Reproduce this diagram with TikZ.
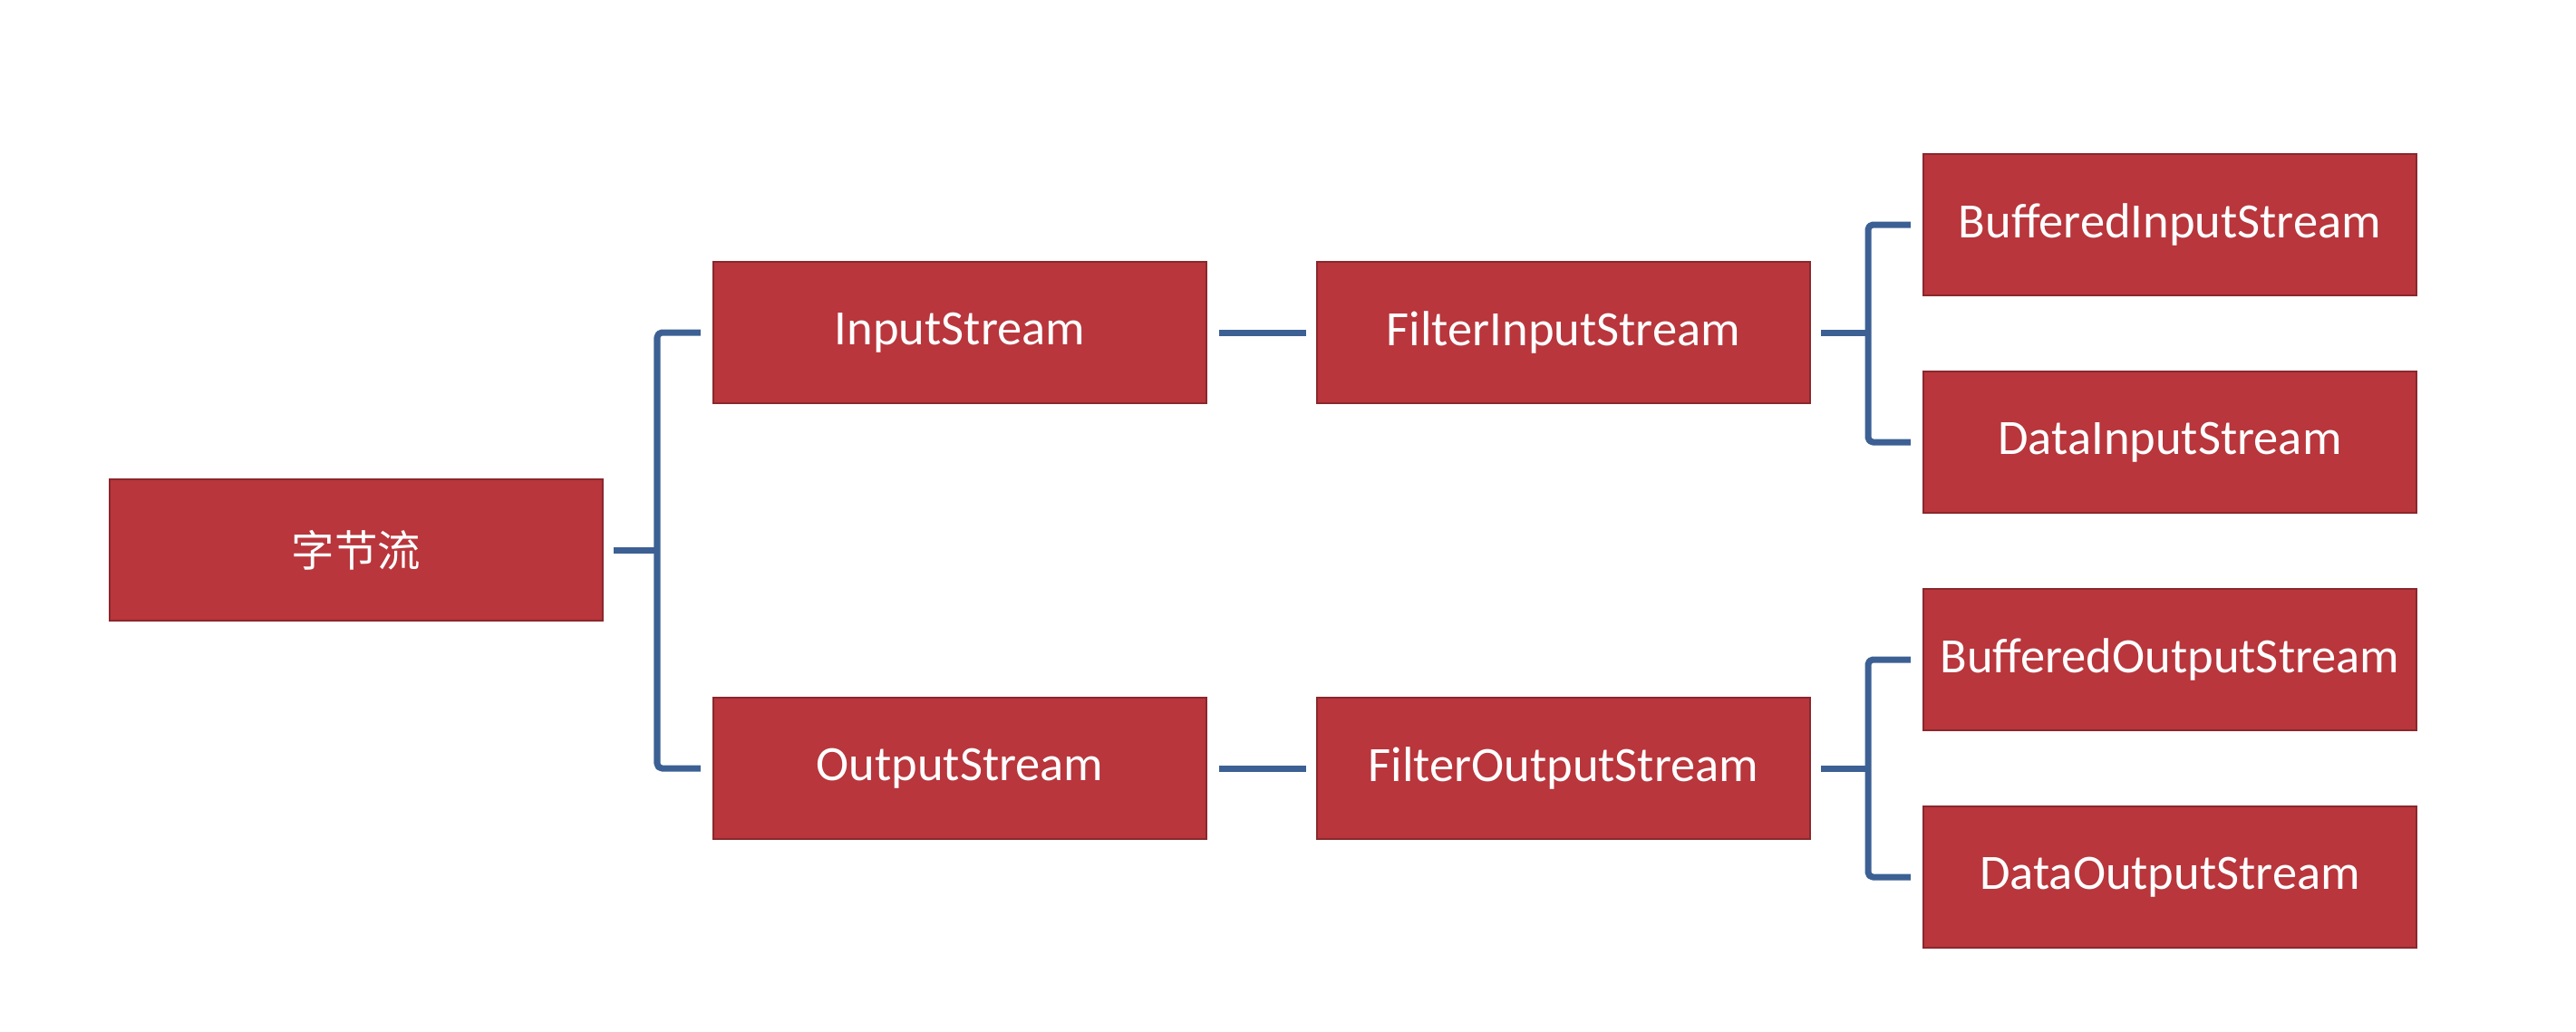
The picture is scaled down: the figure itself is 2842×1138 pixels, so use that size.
\documentclass[tikz,border=0pt]{standalone}
\usepackage{fontspec}
\setmainfont{Carlito}
\newfontfamily\cjk{Noto Sans CJK SC}
\usetikzlibrary{positioning}
\definecolor{boxred}{HTML}{B8363C}
\definecolor{linkblue}{HTML}{3C6093}
\tikzset{
  streambox/.style={rectangle, fill=boxred, draw=boxred!75!black, line width=0.6pt,
    minimum width=5.44cm, minimum height=1.56cm, inner sep=0pt,
    text=white, font=\fontsize{15.5}{18}\selectfont},
  link/.style={draw=linkblue, line width=2pt, line join=round, rounded corners=1.5pt}
}

\begin{document}
\begin{tikzpicture}[x=0.01cm,y=-0.01cm]
\useasboundingbox (0,0) rectangle (2842,1138);

% kotak-kotak
\node[streambox] (zjl) at (393,607) {\cjk\fontsize{13.5}{16}\selectfont 字节流};
\node[streambox] (input) at (1059,367) {InputStream};
\node[streambox] (output) at (1059,848) {OutputStream};
\node[streambox] (finput) at (1725,367) {FilterInputStream};
\node[streambox] (foutput) at (1725,848) {FilterOutputStream};
\node[streambox] (binput) at (2394,248) {BufferedInputStream};
\node[streambox] (dinput) at (2394,488) {DataInputStream};
\node[streambox] (boutput) at (2394,728) {BufferedOutputStream};
\node[streambox] (doutput) at (2394,968) {DataOutputStream};

% titik cabang
\coordinate (s1) at (725,607);
\coordinate (s2) at (2061,367);
\coordinate (s3) at (2061,848);

% garis penghubung
\draw[link] ([xshift=0.11cm]zjl.east) -- (s1);
\draw[link] ([xshift=-0.13cm]input.west) -| (s1) |- ([xshift=-0.13cm]output.west);
\draw[link] ([xshift=0.13cm]input.east) -- ([xshift=-0.11cm]finput.west);
\draw[link] ([xshift=0.13cm]output.east) -- ([xshift=-0.11cm]foutput.west);
\draw[link] ([xshift=0.11cm]finput.east) -- (s2);
\draw[link] ([xshift=-0.13cm]binput.west) -| (s2) |- ([xshift=-0.13cm]dinput.west);
\draw[link] ([xshift=0.11cm]foutput.east) -- (s3);
\draw[link] ([xshift=-0.13cm]boutput.west) -| (s3) |- ([xshift=-0.13cm]doutput.west);

\end{tikzpicture}
\end{document}
